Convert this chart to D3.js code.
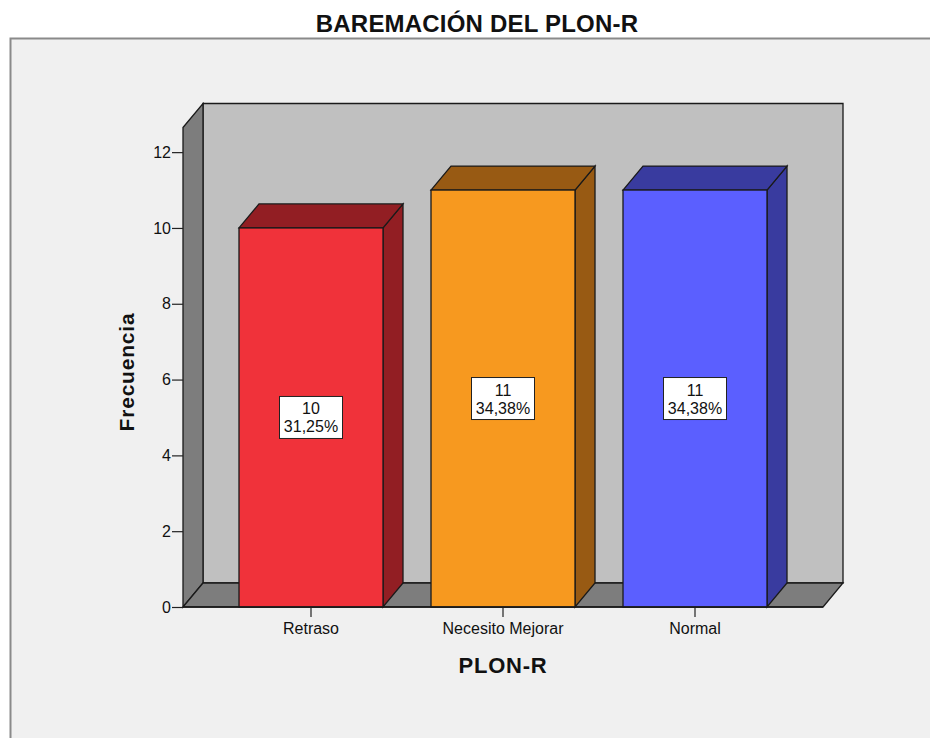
<!DOCTYPE html>
<html><head><meta charset="utf-8">
<script src="https://cdn.jsdelivr.net/npm/d3@7"></script>
<style>body{margin:0;background:#fff;}svg{display:block;font-family:"Liberation Sans",Arial,sans-serif;}</style>
</head><body>
<script>
const categories = ["Retraso", "Necesito Mejorar", "Normal"];
const counts = [10, 11, 11];
const percents = ["31,25%", "34,38%", "34,38%"];
const yTicks = [0, 2, 4, 6, 8, 10, 12];
const frontColors = ["#f0323a", "#f7991f", "#5b5fff"];
const darkColors = ["#921e23", "#985a13", "#393b9f"];

const W = 930, H = 738;
const svg = d3.select("body").append("svg").attr("width", W).attr("height", H);

// outer frame
svg.append("rect").attr("x", 10.5).attr("y", 38.5).attr("width", 1000).attr("height", 800)
  .attr("fill", "#f0f0f0").attr("stroke", "#8a8a8a").attr("stroke-width", 2);

svg.append("text").attr("x", 477).attr("y", 32).attr("text-anchor", "middle")
  .attr("font-size", 24).attr("font-weight", "bold").attr("letter-spacing", 0.2).attr("fill", "#111").text("BAREMACIÓN DEL PLON-R");

const x0 = 183, x1 = 823, yBase = 607;
const dx = 20, dy = -24;
const y = d3.scaleLinear().domain([0, 12.65]).range([yBase, 127.5]);
const x = d3.scaleBand().domain(categories).range([x0, x1]).paddingInner(0.25).paddingOuter(56/192);

const stroke = "#1a1a1a", sw = 1.3;
const poly = pts => pts.map(p => p.join(",")).join(" ");
const yTop = y(y.domain()[1]);

// back wall
svg.append("polygon").attr("points", poly([[x0+dx, yTop+dy], [x1+dx, yTop+dy], [x1+dx, yBase+dy], [x0+dx, yBase+dy]]))
  .attr("fill", "#c0c0c0").attr("stroke", stroke).attr("stroke-width", sw);
// left wall
svg.append("polygon").attr("points", poly([[x0, yTop], [x0+dx, yTop+dy], [x0+dx, yBase+dy], [x0, yBase]]))
  .attr("fill", "#7d7d7d").attr("stroke", stroke).attr("stroke-width", sw);
// floor
svg.append("polygon").attr("points", poly([[x0, yBase], [x0+dx, yBase+dy], [x1+dx, yBase+dy], [x1, yBase]]))
  .attr("fill", "#7d7d7d").attr("stroke", stroke).attr("stroke-width", sw);

// bars
categories.forEach((c, i) => {
  const bx0 = x(c), bx1 = x(c) + x.bandwidth(), by = y(counts[i]);
  const g = svg.append("g");
  g.append("polygon").attr("points", poly([[bx1, by], [bx1+dx, by+dy], [bx1+dx, yBase+dy], [bx1, yBase]]))
    .attr("fill", darkColors[i]).attr("stroke", stroke).attr("stroke-width", sw);
  g.append("polygon").attr("points", poly([[bx0, by], [bx0+dx, by+dy], [bx1+dx, by+dy], [bx1, by]]))
    .attr("fill", darkColors[i]).attr("stroke", stroke).attr("stroke-width", sw);
  g.append("rect").attr("x", bx0).attr("y", by).attr("width", bx1 - bx0).attr("height", yBase - by)
    .attr("fill", frontColors[i]).attr("stroke", stroke).attr("stroke-width", sw);
  const cx = (bx0 + bx1) / 2, cy = (by + yBase) / 2;
  g.append("rect").attr("x", cx - 31.5).attr("y", cy - 21).attr("width", 63).attr("height", 42)
    .attr("fill", "#fff").attr("stroke", "#222").attr("stroke-width", 1);
  g.append("text").attr("x", cx).attr("y", cy - 3).attr("text-anchor", "middle").attr("font-size", 16)
    .attr("fill", "#111").text(counts[i]);
  g.append("text").attr("x", cx).attr("y", cy + 15).attr("text-anchor", "middle").attr("font-size", 16)
    .attr("fill", "#111").text(percents[i]);
});

// front bottom edge line
svg.append("line").attr("x1", x0).attr("x2", x1).attr("y1", yBase).attr("y2", yBase)
  .attr("stroke", stroke).attr("stroke-width", 1.6);

// y axis
const yAxis = d3.axisLeft(y).tickValues(yTicks).tickSize(11).tickPadding(1);
const ya = svg.append("g").attr("transform", `translate(${x0},0)`).call(yAxis);
ya.select(".domain").remove();
ya.selectAll("line").attr("stroke", "#222").attr("stroke-width", 1.2);
ya.selectAll("text").attr("font-size", 16).attr("fill", "#111").attr("font-family", "Liberation Sans, Arial, sans-serif");

// x axis
const xAxis = d3.axisBottom(x).tickSize(9).tickPadding(6);
const xa = svg.append("g").attr("transform", `translate(0,${yBase + 1})`).call(xAxis);
xa.select(".domain").remove();
xa.selectAll("line").attr("stroke", "#222").attr("stroke-width", 1.2);
xa.selectAll("text").attr("font-size", 16).attr("fill", "#111").attr("font-family", "Liberation Sans, Arial, sans-serif");

svg.append("text").attr("x", 503).attr("y", 672.5).attr("text-anchor", "middle")
  .attr("font-size", 22).attr("font-weight", "bold").attr("letter-spacing", 0.8).attr("fill", "#111").text("PLON-R");
svg.append("text").attr("transform", "translate(133.5,372) rotate(-90)").attr("text-anchor", "middle")
  .attr("font-size", 21).attr("font-weight", "bold").attr("letter-spacing", 0.8).attr("fill", "#111").text("Frecuencia");
</script>
</body></html>
